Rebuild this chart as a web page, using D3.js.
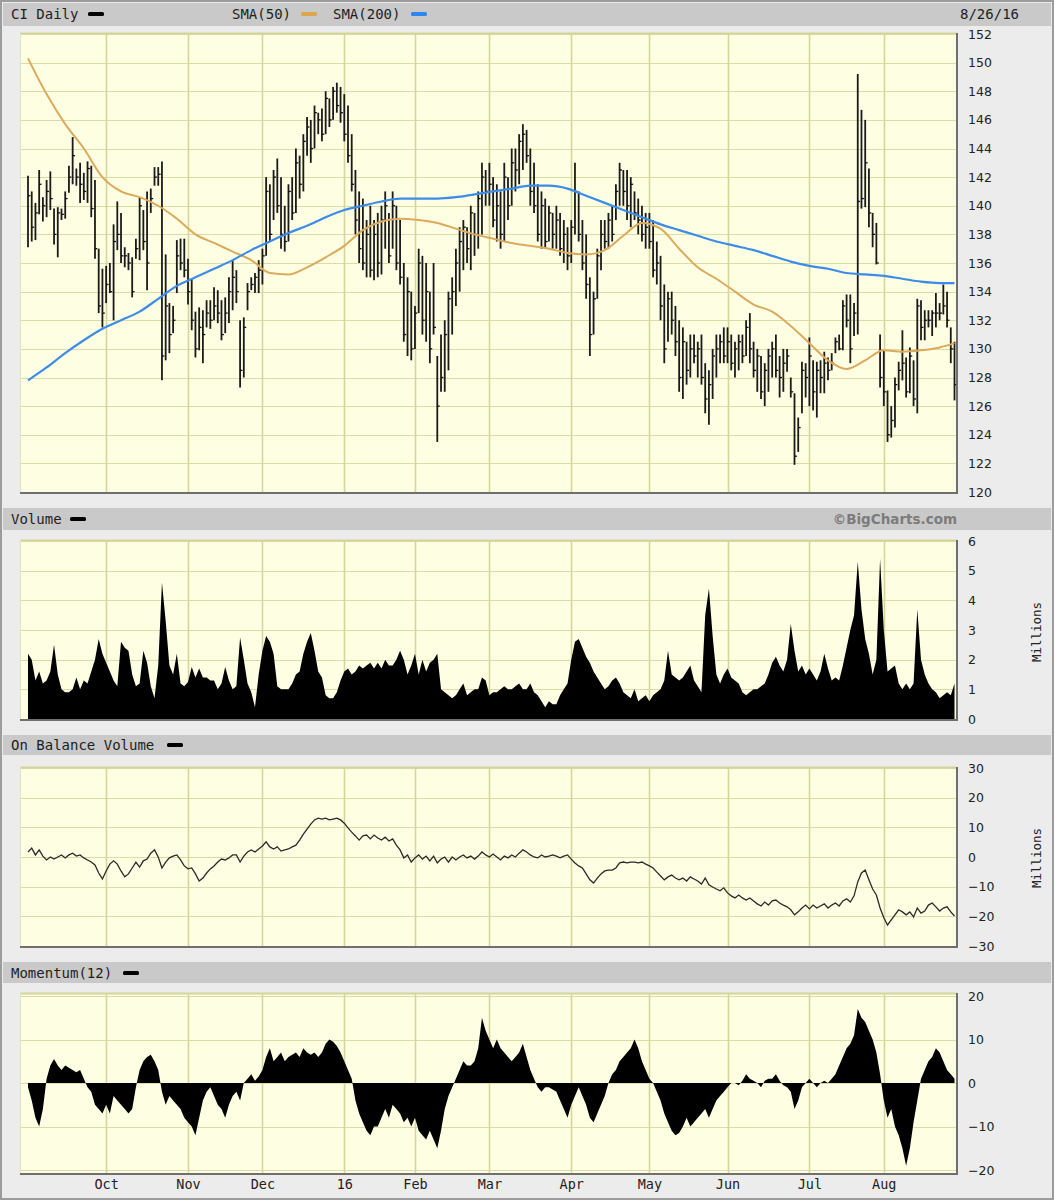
<!DOCTYPE html>
<html><head><meta charset="utf-8">
<script src="https://cdn.jsdelivr.net/npm/d3@7"></script>
<style>body{margin:0;background:#ececec}svg{display:block}</style>
</head><body>
<svg id="c" width="1054" height="1200"></svg>
<script>
// ---------------- DATA ----------------
const ticker = "CI Daily";
const lastDate = "8/26/16";
const holidays = ["2015-09-07","2015-11-26","2015-12-25","2016-01-01","2016-01-18","2016-02-15","2016-03-25","2016-05-30","2016-07-04"];
const monthLabels = ["Oct","Nov","Dec","16","Feb","Mar","Apr","May","Jun","Jul","Aug"];

const highs = [
142.1,141,140.2,142.5,140.6,141.8,142.4,139.8,139.9,139.8,
141,142.8,144.8,142.6,143,142.3,143.1,142.8,141.8,137,
135.6,135.8,136,138.7,140.3,139.5,137.1,136.7,136.4,137.7,
140.6,139.7,141,141.2,142.7,142.7,143.1,136.6,133.2,133,
137.6,137.7,137.7,136.3,134.9,132.6,132.9,132.7,133.4,133.4,
134.3,134.1,133.4,133.6,135,136.2,135.5,132,132.2,134.6,
135,135.3,136.2,137,142,141.5,142.5,143.3,142,140,
141.5,142,144,143.5,145,146.2,146,147,146.5,146.8,
148,147.5,148.3,148.6,148.3,147.8,147,145,142.5,141,
140.5,139,140,139,139.5,140,141,139.5,141,140,
139,136,135,134,133,137,136.5,136,134,136,
129.5,131,132,134,135,137,138.5,139,138.5,140,
139.5,141,143,142.5,143,142,141.5,141,143,142,
144,144,145,145.7,145.3,144,143,141.5,141,140.5,
140,139.5,140,139.5,139,138.5,139,143,141,139,
138,135,134,137,139,139,139.5,140,141.5,143,
142.5,142.5,142,141,140.5,140,139.5,139.5,139,137.5,
136.5,134.5,134,134,133,132,131.5,130.5,131,131,
130.5,131,129,128.5,130,131,131,131.5,131.5,131,
130.5,131,131,132,132.5,130.5,130,129.5,129,130,
130.5,131,129.5,130,130,128,126.9,125.2,129.1,129,
130.8,129.2,129.1,129.2,129.8,129.4,129.7,130.8,131,133.4,
133.8,133.8,133.2,149.2,146.7,146,142.6,139.5,138.8,131,
129.9,127.1,126,128,129.1,131.3,129.4,130.1,129.2,133.5,
133.4,132.7,132.7,132.7,133.9,133.2,134.5,134,131.5,130.5];

const lows = [
137.1,137.5,137.6,139.4,138.9,139.2,139.7,137.3,136.4,139,
139.1,140.9,141.5,141.4,140.2,140.4,140.2,139.2,136.3,132.5,
131.5,133.2,133.9,132,136.9,136,135.7,135.5,133.6,136.3,
136.2,136.9,134.1,139.5,141.4,141.4,127.8,129.2,129.7,131.1,
133.9,135.5,135,133.1,131.3,129.4,129.9,129,131.5,131.4,
132,131.8,130.6,131.1,131.8,132.7,133.2,127.3,128,132.7,
134.1,133.9,133.9,134.5,136.5,137.5,139,139.5,137,136.8,
137.5,139,139.5,140.5,141,143.5,143,144,145,144.5,
145,145.5,146,146.5,145.8,144.5,143,141,138,136,
135.5,135,135,134.8,135,135.2,137,136,137,135.5,
134.5,130.5,129.5,129.2,130,132.5,131,130.5,129,131,
123.5,127,127,128.5,131,133,134,135.5,136,135.5,
136.5,137,138,140,140,138.5,137.5,137,137.5,139,
140,141,141.5,142.5,143,140,139.5,137.5,137,137,
137.5,137,137,136.5,136,135.5,136,138,137.5,135.5,
133.5,129.5,131,133.5,135.5,137,137,137.5,139,140,
140,139,138.5,139,138,137.5,137,137,135,134.5,
132,129,130.5,131,129.5,127,126.5,127.5,128,129,
128,127.5,125.5,124.7,126.5,128,129,129,129,128.5,
128,128.5,129,129.5,129,128,127,126.5,126,127,
128,128,126.6,127,128.4,126.6,121.9,122.8,125.5,126.6,
126,125.7,125.2,126.9,126.9,127.8,128.5,129.7,129.9,129.9,
131.5,129,130.9,131,139.8,139.9,138.5,137.1,135.9,127.3,
126,123.5,123.8,124.5,127.1,127.8,126.6,126.9,126,125.5,
130.6,130.6,131.5,130.9,131.5,132,132.4,131.5,129,126.4];

const closes = [
140.7,138.5,139.5,141.5,140,141,140.5,138,139.5,139.4,
140.5,142,143.5,142,141.5,141,142.6,139.8,137,133,
132.5,134.5,134,137.5,138,136.5,136.5,136,134,137,
140,137.5,136,140.5,142,142.2,129.5,133,131,132,
136.5,136,135.5,134,132,130,131.5,131,132.5,132,
133,132.5,131,132.5,134,135,134,128.5,131.5,134,
134.5,135,135.5,136.5,141,138,142,140,138,137.5,
141,139.5,143,141.5,144.5,145.5,144,146.5,146,145,
147.5,146,148,147,146.5,145,143.5,141.5,139,137,
136,138,135.5,138,136,139,140,136.5,140,136,
135,131,134,130,132.5,136,132,134,130,131.5,
126,128,131,133.5,134,136,137.5,138.5,137,139.5,
138,140.5,142,141,141.5,139,140,138,142,140,
143,142.5,144.5,145,143.5,141,140,138,140,137.5,
139.5,138,139,137,138,136.5,138.5,141,138,136,
134.5,131,133.5,136.5,138,137.5,139,138,141,142.5,
141,140,141.5,139.5,139,138,138.5,137.5,135.5,136,
133,130,133.5,132,130.5,128,130.5,128.5,130,129.5,
130,128,126.5,127.5,129.5,130,130.5,129.5,130.5,129,
130,130.5,129.5,131.5,130,128.5,129.5,127,128.5,129.5,
130,128.5,128,129,129.5,127,122.5,124.5,128.5,128,
129.5,127,128.5,128,129,128.5,129,130.5,130,133,
132,130,132.5,140.3,140.5,143,139.5,138,136,128,
127,124,125,127.5,128.5,129,127,129.5,126.5,133,
131.5,132,132,132.5,132.5,132.5,133,132,130,127.5];

// moving averages, sampled every 5 trading days (plus the last day)
const smaDayIndex = [0,5,10,15,20,25,30,35,40,45,50,55,60,65,70,75,80,85,90,95,100,105,110,115,120,125,130,135,140,145,150,155,160,165,170,175,180,185,190,195,200,205,210,215,220,225,230,235,240,245,249];
const sma50 = [150.3,147.8,145.7,144.0,142.0,141.0,140.6,140.0,139.1,138.0,137.4,136.8,136.2,135.3,135.2,135.7,136.4,137.2,138.3,138.9,139.1,139.0,138.8,138.4,138.0,137.7,137.4,137.2,137.0,136.7,136.6,136.9,137.9,138.8,138.4,137.0,135.7,134.9,134.0,133.1,132.6,131.6,130.4,129.2,128.6,129.2,129.9,129.8,129.9,130.1,130.4];
const sma200 = [127.8,128.7,129.7,130.6,131.4,132.0,132.6,133.5,134.4,135.0,135.6,136.2,136.9,137.5,138.1,138.6,139.2,139.7,140.0,140.3,140.5,140.5,140.5,140.6,140.8,141.0,141.2,141.4,141.4,141.2,140.7,140.2,139.7,139.2,138.7,138.3,137.9,137.5,137.2,136.9,136.5,136.1,135.8,135.6,135.3,135.2,135.1,134.9,134.7,134.6,134.6];

// volume, millions
const volume = [
2.2,2.0,1.3,1.6,1.2,1.3,1.6,2.5,1.5,1.0,
0.9,0.9,1.0,1.4,1.0,1.3,1.2,1.6,2.0,2.7,
2.2,1.9,1.6,1.3,1.1,2.6,2.4,2.3,1.5,1.1,
1.2,2.3,1.9,1.1,0.7,1.8,4.6,3.3,1.8,1.5,
2.2,1.2,1.1,1.25,1.75,1.4,1.7,1.4,1.4,1.3,
1.3,1.0,1.2,1.75,1.3,1.0,1.1,2.75,2.0,1.2,
0.9,0.4,1.5,2.3,2.8,2.6,2.2,1.1,1.0,1.0,
1.0,1.2,1.5,1.6,2.2,2.6,2.9,2.3,1.6,1.4,
0.8,0.7,0.7,0.9,1.3,1.6,1.7,1.5,1.6,1.8,
1.7,1.8,1.9,1.7,1.9,1.7,2.0,1.8,1.8,2.0,
2.3,2.0,1.5,1.8,2.2,1.5,2.0,1.6,1.9,2.0,
2.2,1.0,0.9,0.8,0.7,0.8,1.0,1.2,0.8,0.9,
1.0,1.0,1.4,1.3,0.8,0.9,0.9,1.0,1.1,1.0,
1.0,1.1,1.2,1.0,1.0,1.2,0.9,0.8,0.6,0.4,
0.6,0.5,0.5,0.8,1.0,1.2,2.0,2.6,2.7,2.4,
2.1,1.9,1.6,1.4,1.2,1.0,1.1,1.3,1.4,1.2,
0.9,0.8,0.7,1.0,0.6,0.7,0.8,0.6,0.8,0.9,
1.0,1.3,2.3,1.5,1.4,1.3,1.4,1.6,1.8,1.3,
1.1,0.9,3.5,4.4,2.8,1.5,1.2,1.5,1.7,1.4,
1.3,1.2,0.9,0.8,0.9,1.0,1.0,1.1,1.2,1.5,
1.9,2.1,1.8,1.6,2.0,3.2,2.3,1.6,1.8,1.5,
1.7,1.5,1.3,1.6,2.2,1.7,1.3,1.4,1.3,1.8,
2.4,3.0,3.5,5.3,3.7,2.7,2.2,1.5,2.0,5.4,
3.0,1.6,1.7,1.8,1.2,1.0,1.2,1.0,1.2,3.7,
2.0,1.5,1.2,1.0,0.9,0.7,0.8,0.9,0.8,1.2];

// on balance volume, millions
const obv = [
1.7,3.0,0.7,2.4,0.3,-1.0,0,-0.7,0,0.7,
-0.3,0.7,1.3,0.3,0.7,-0.3,-1.0,-1.7,-2.7,-5.4,
-7.4,-4.7,-2.4,-1.3,-2.4,-4.7,-6.7,-5.7,-3.7,-1.7,
-3.4,-1.3,-0.7,1.3,2.4,0,-3.7,-1.7,-0.3,0.3,
0.7,-1.0,-3.0,-4.0,-3.7,-5.7,-8.1,-7.1,-5.4,-4.0,
-3.0,-1.7,-0.7,-1.0,-0.3,0.7,0.7,-1.7,0.3,1.7,
2.4,1.7,2.7,3.7,5.1,3.4,2.7,3.4,2.0,2.4,
2.7,3.4,4.0,5.7,7.7,9.4,11.1,12.5,13.1,12.8,
13.1,12.5,12.8,13.1,12.5,11.4,9.8,8.4,7.1,5.7,
7.1,7.4,6.1,7.4,6.4,5.7,6.7,5.4,6.1,4.0,
2.4,-0.3,0.7,-1.7,-0.3,0.7,-0.7,0.3,-1.3,0.3,
-2.0,-0.7,0,-1.7,0,-1.0,0,0.7,-0.3,0.3,
-0.7,0.3,1.7,0.7,0,1.0,0,-1.0,0.3,-0.3,
0.7,0,1.3,2.4,1.7,0.7,0,-0.3,0.7,0,
0.3,0.7,0.3,-0.3,0.3,0.7,-0.7,-2.0,-3.0,-3.7,
-5.7,-7.7,-8.8,-7.1,-5.7,-4.7,-4.4,-4.4,-3.7,-2.0,
-1.7,-2.0,-1.7,-1.7,-2.0,-1.7,-2.4,-3.0,-3.7,-5.1,
-6.4,-7.7,-6.7,-6.1,-7.1,-7.7,-7.1,-8.1,-6.7,-7.4,
-8.1,-9.1,-7.1,-9.4,-10.1,-10.8,-11.4,-10.4,-12.1,-13.1,
-13.8,-12.8,-13.8,-14.5,-13.8,-14.8,-15.8,-16.5,-15.2,-16.2,
-14.8,-14.5,-15.5,-16.2,-16.8,-17.8,-19.5,-18.5,-17.2,-16.2,
-17.5,-16.2,-17.2,-16.5,-15.8,-17.2,-16.2,-15.5,-16.5,-14.8,
-14.1,-15.2,-13.1,-8.4,-5.4,-4.4,-7.7,-10.8,-12.8,-17.2,
-20.5,-22.9,-21.2,-19.5,-17.8,-18.5,-19.5,-18.5,-20.2,-17.2,
-18.9,-18.2,-16.2,-15.5,-16.8,-18.2,-17.2,-16.8,-18.5,-19.9];

// momentum(12)
const momentum = [
-1,-4,-8,-10,-6,1,4,5.5,4,3,
4,3.5,3,2.5,3,1,-1,-2,-5,-6,
-7,-5,-7,-3,-4,-5,-6,-7,-6,-1,
3,5,6,6.5,5,3,-2,-5,-3,-4,
-5,-6,-8,-9,-10,-12,-8,-4,-2,-1,
-3,-5,-6,-8,-5,-3,-2,-4,0,1,
2,0.5,1.5,3,6,8,5,6,7,5,
6,6.5,7,6,8,7,6.5,7,6,7,
9,10,9.5,8.5,7,5,3,1,-4,-7,
-9,-11,-12,-10,-10,-8,-6,-8,-5,-6,
-7,-9,-8,-10,-8,-11,-12,-13,-11,-13,
-15,-11,-6,-3,-1,1,3,5,4,4,
5,8,15,12,10,8,10,8,7,6,
5,6,7,9,6,3,1,-1,-2,-1,
-1,-1.5,-2,-4,-6,-8,-5,-3,-1,-3,
-5,-8,-9,-7,-5,-3,0,2,3,5,
6,7,8,10,8,5,3,1,0,-2,
-4,-7,-9,-11,-12,-11.5,-10,-8,-10,-9,
-8,-7,-6,-8,-6,-4,-3,-2,-1,0,
0,-0.5,0.5,2,1,0.5,0,-1,0.5,1,
1,2,0.5,-0.5,-1,-2,-6,-4,-1,0,
1,0,-1,0,0.5,0,1,2,4,6,
8,9,11,17,15,14,12,10,7,2,
-4,-8,-6,-10,-12,-15,-19,-15,-9,-4,
1,3,5,6,8,7,5,3,2,1];

const priceTicks = [120,122,124,126,128,130,132,134,136,138,140,142,144,146,148,150,152];
const volumeTicks = [0,1,2,3,4,5,6];
const obvTicks = [-30,-20,-10,0,10,20,30];
const momTicks = [-20,-10,0,10,20];

// ---------------- CALENDAR ----------------
function tradingDays(){
  const out=[]; let t=Date.UTC(2015,8,1); const end=Date.UTC(2016,7,26);
  while(t<=end){ const d=new Date(t); const wd=d.getUTCDay(); const s=d.toISOString().slice(0,10);
    if(wd!==0&&wd!==6&&!holidays.includes(s)) out.push(d); t+=86400000; }
  return out;
}
const days = tradingDays();
const monthStarts=[]; days.forEach((d,i)=>{ if(i>0 && d.getUTCMonth()!==days[i-1].getUTCMonth()) monthStarts.push(i); });

// ---------------- LAYOUT ----------------
const W=1054,H=1200, L=20, R=957;
const svg=d3.select('#c');
const x=d3.scaleLinear().domain([0,days.length-1]).range([28,954.5]);
const MONO='"DejaVu Sans Mono", "Liberation Mono", monospace';
const SANS='"DejaVu Sans", Verdana, sans-serif';

svg.append('rect').attr('width',W).attr('height',H).attr('fill','#ececec');

const panels=[
  {name:'price', top:33, bottom:493, y:d3.scaleLinear().domain([120,152]).range([492,34]), ticks:priceTicks, header:[3,26]},
  {name:'vol', top:540, bottom:720, y:d3.scaleLinear().domain([0,6]).range([719,541]), ticks:volumeTicks, header:[508,530]},
  {name:'obv', top:767, bottom:947, y:d3.scaleLinear().domain([-30,30]).range([946,768]), ticks:obvTicks, header:[735,755]},
  {name:'mom', top:993, bottom:1174, y:d3.scaleLinear().domain([-20,20]).range([1170,996]), ticks:momTicks, header:[962,983]}
];

function legendMark(g,x0,y0,color){
  g.append('rect').attr('x',x0).attr('y',y0).attr('width',16).attr('height',4).attr('rx',1.5).attr('fill',color);
}

panels.forEach(p=>{
  svg.append('rect').attr('x',3).attr('y',p.header[0]).attr('width',W-6).attr('height',p.header[1]-p.header[0]).attr('fill','#c9c9c9');
  const g=svg.append('g');
  const cid='clip-'+p.name;
  svg.append('clipPath').attr('id',cid).append('rect').attr('x',L).attr('y',p.top).attr('width',R-L).attr('height',p.bottom-p.top);
  g.append('rect').attr('x',L).attr('y',p.top).attr('width',R-L).attr('height',p.bottom-p.top).attr('fill','#fefee3');
  g.selectAll('line.h').data(p.ticks).join('line').attr('x1',L).attr('x2',R)
    .attr('y1',d=>Math.round(p.y(d))+0.5).attr('y2',d=>Math.round(p.y(d))+0.5)
    .attr('stroke','#dcdca6').attr('stroke-width',1.2);
  g.selectAll('line.v').data(monthStarts).join('line').attr('y1',p.top).attr('y2',p.bottom)
    .attr('x1',d=>Math.round(x(d))+0.5).attr('x2',d=>Math.round(x(d))+0.5)
    .attr('stroke','#d6d69c').attr('stroke-width',1.6);
  p.g=svg.append('g').attr('clip-path',`url(#${cid})`);
  const b=svg.append('g');
  b.append('line').attr('x1',L).attr('x2',R).attr('y1',p.top+0.5).attr('y2',p.top+0.5).attr('stroke','#d4d49a').attr('stroke-width',2);
  b.append('line').attr('x1',L+0.5).attr('x2',L+0.5).attr('y1',p.top).attr('y2',p.bottom).attr('stroke','#e2e2c0').attr('stroke-width',1);
  p.border=b;
  const ax=svg.append('g').attr('transform',`translate(${R},0)`)
    .call(d3.axisRight(p.y).tickValues(p.ticks).tickSize(0).tickPadding(11).tickFormat(d3.format('d')));
  ax.select('.domain').remove();
  ax.selectAll('text').attr('font-family',SANS).attr('font-size',12.5).attr('fill','#222');
});

// ---------------- PRICE ----------------
const pp=panels[0], py=pp.y;
pp.g.selectAll('line.bar').data(highs).join('line')
  .attr('x1',(d,i)=>x(i)).attr('x2',(d,i)=>x(i))
  .attr('y1',d=>py(d)).attr('y2',(d,i)=>py(lows[i]))
  .attr('stroke','#1a1a1a').attr('stroke-width',1.8);
pp.g.selectAll('line.cl').data(closes).join('line')
  .attr('x1',(d,i)=>x(i)).attr('x2',(d,i)=>x(i)+2.4)
  .attr('y1',d=>py(d)).attr('y2',d=>py(d))
  .attr('stroke','#111').attr('stroke-width',1.3);
const smaLine=arr=>d3.line().x((d,k)=>x(smaDayIndex[k])).y(d=>py(d)).curve(d3.curveMonotoneX)(arr);
pp.g.append('path').attr('d',smaLine(sma50)).attr('fill','none').attr('stroke','#dcaa5c').attr('stroke-width',2);
pp.g.append('path').attr('d',smaLine(sma200)).attr('fill','none').attr('stroke','#3d8ce8').attr('stroke-width',2.2);

// ---------------- VOLUME ----------------
const pv=panels[1];
pv.g.append('path').attr('d',d3.area().x((d,i)=>x(i)).y0(pv.y(0)).y1(d=>pv.y(d))(volume)).attr('fill','#000');

// ---------------- OBV ----------------
const po=panels[2];
po.g.append('path').attr('d',d3.line().x((d,i)=>x(i)).y(d=>po.y(d))(obv)).attr('fill','none').attr('stroke','#2a2a2a').attr('stroke-width',1.3);

// ---------------- MOMENTUM ----------------
const pm=panels[3];
pm.g.append('path').attr('d',d3.area().x((d,i)=>x(i)).y0(pm.y(0)).y1(d=>pm.y(d))(momentum)).attr('fill','#000');

panels.forEach(p=>{
  p.border.raise();
  p.border.append('line').attr('x1',L).attr('x2',R+1).attr('y1',p.bottom).attr('y2',p.bottom).attr('stroke','#6f6f6f').attr('stroke-width',2);
  p.border.append('line').attr('x1',R).attr('x2',R).attr('y1',p.top).attr('y2',p.bottom+1).attr('stroke','#6f6f6f').attr('stroke-width',2);
});

// ---------------- X AXIS ----------------
const xa=svg.append('g').attr('transform','translate(0,1176)')
  .call(d3.axisBottom(x).tickValues(monthStarts).tickSize(0).tickPadding(3).tickFormat((d,k)=>monthLabels[k]));
xa.select('.domain').remove();
xa.selectAll('text').attr('font-family',MONO).attr('font-size',13.5).attr('fill','#222');

// ---------------- HEADERS ----------------
const hdr=(txt,xx,yy,opt={})=>svg.append('text').attr('x',xx).attr('y',yy).text(txt)
  .attr('font-family',opt.font||MONO).attr('font-size',opt.size||14).attr('fill',opt.fill||'#1e1e1e')
  .attr('font-weight',opt.weight||'normal').attr('text-anchor',opt.anchor||'start');
hdr(ticker,11,19); legendMark(svg,88,12,'#000');
hdr('SMA(50)',232,19); legendMark(svg,301,12,'#dca64a');
hdr('SMA(200)',333,19); legendMark(svg,411,12,'#2f86ee');
hdr(lastDate,1019,19,{anchor:'end'});
hdr('Volume',11,524); legendMark(svg,70,517,'#000');
hdr('\u00A9BigCharts.com',957,524,{font:SANS,size:13.5,weight:'bold',fill:'#7c7c7c',anchor:'end'});
hdr('On Balance Volume',11,750); legendMark(svg,167,743,'#000');
hdr('Momentum(12)',11,978); legendMark(svg,123,971,'#000');

[[1041,632],[1041,858]].forEach(([cx,cy])=>{
  svg.append('text').attr('transform',`translate(${cx},${cy}) rotate(-90)`).attr('text-anchor','middle')
    .attr('font-family',MONO).attr('font-size',12.5).attr('fill','#222').text('Millions');
});

svg.append('rect').attr('x',1).attr('y',1).attr('width',W-2).attr('height',H-2).attr('fill','none').attr('stroke','#9c9c9c').attr('stroke-width',2);
</script>
</body></html>
